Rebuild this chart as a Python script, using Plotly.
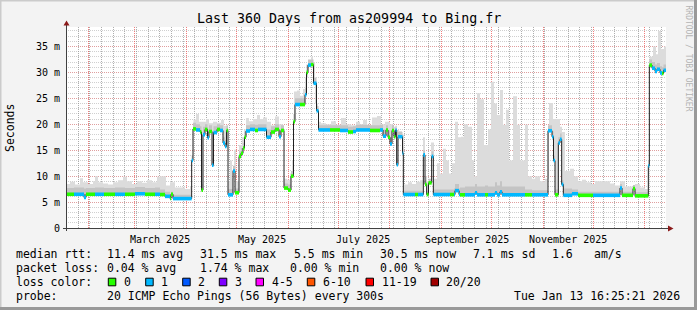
import plotly.graph_objects as go
import pandas as pd

# ---------------- data ----------------
START = pd.Timestamp("2025-01-18 16:25:21")
END = pd.Timestamp("2026-01-13 16:25:21")

# median RTT (ms) change points, days since START, with lost pings (of 20)
median_days = [0.0, 4.8, 10.8, 12.0, 17.4, 22.8, 29.4, 35.4, 41.4, 47.4, 53.4, 56.4, 59.4, 62.4, 63.0, 64.2,
               75.4, 76.2, 78.0, 80.4, 81.3, 82.2, 83.4, 84.9, 85.8, 87.6, 88.5, 90.6, 92.4, 94.2, 95.4, 96.3,
               97.2, 100.2, 101.4, 103.8, 105.0, 106.2, 107.1, 108.0, 110.4, 113.4, 115.2, 117.6, 120.3, 123.0,
               125.4, 127.8, 129.0, 130.8, 133.2, 135.0, 136.5, 137.4, 140.4, 143.4, 144.3, 145.2, 147.0, 148.5,
               150.3, 151.5, 158.4, 164.4, 169.2, 172.2, 174.0, 177.6, 182.4, 188.4, 190.2, 192.0, 193.2, 194.4,
               195.6, 196.8, 197.7, 198.4, 199.2, 201.0, 201.9, 202.4, 209.4, 211.2, 214.4, 215.4, 216.4, 217.5,
               219.4, 220.4, 230.4, 232.8, 233.4, 235.8, 236.4, 239.4, 245.4, 246.6, 251.4, 253.2, 257.4, 258.6,
               260.4, 261.6, 275.4, 279.6, 289.2, 291.6, 292.5, 293.4, 295.4, 296.4, 297.4, 298.4, 303.6, 307.2,
               316.2, 332.4, 333.6, 340.2, 341.4, 349.4, 350.0, 351.6, 353.4, 354.6, 356.4, 357.6, 358.5, 360.0]
median_ms = [6.5, 6.5, 5.9, 6.5, 6.5, 6.5, 6.5, 6.5, 6.6, 6.5, 6.5, 6.45, 6.1, 5.7, 6.5, 5.67,
             13.0, 19.1, 18.9, 18.5, 7.3, 18.0, 19.0, 17.4, 18.6, 12.1, 18.4, 19.0, 18.8, 16.4, 15.7, 18.8,
             6.4, 11.0, 6.8, 13.8, 14.4, 15.4, 17.5, 18.7, 19.0, 18.8, 19.0, 19.0, 17.5, 18.5,
             19.0, 17.6, 18.8, 7.7, 7.3, 10.0, 20.5, 23.8, 23.8, 25.7, 30.0, 31.4, 31.5, 27.9,
             22.6, 18.9, 18.9, 18.8, 18.5, 18.6, 18.9, 18.9, 18.8, 18.9, 17.7, 18.9, 17.5, 16.2,
             18.8, 17.6, 18.9, 12.2, 17.6, 17.6, 14.4, 6.45, 6.45, 6.45, 14.1, 8.4, 6.45, 8.7,
             13.8, 6.45, 6.45, 6.45, 7.2, 6.45, 6.4, 6.4, 6.8, 6.4, 6.4, 6.4, 6.8, 6.4,
             7.0, 6.4, 6.4, 6.4, 18.75, 17.6, 13.0, 6.4, 16.4, 17.1, 8.4, 6.3, 6.6, 6.3,
             6.3, 7.7, 6.3, 7.6, 6.2, 12.0, 31.4, 30.8, 30.2, 30.6, 29.9, 29.8, 30.4, 30.4]
median_loss = [0, 1, 1, 0, 1, 0, 1, 0, 1, 0, 1, 0, 1, 0, 0, 1,
               1, 0, 1, 0, 0, 1, 0, 1, 0, 1, 1, 0, 1, 1, 1, 0,
               1, 1, 0, 0, 0, 0, 0, 1, 1, 0, 1, 1, 1, 0,
               0, 1, 0, 0, 0, 0, 0, 1, 0, 1, 0, 1, 0, 1,
               1, 1, 0, 1, 0, 1, 1, 1, 0, 1, 1, 0, 0, 1,
               0, 0, 1, 1, 1, 1, 1, 1, 0, 1, 1, 0, 0, 0,
               1, 1, 0, 1, 1, 1, 0, 1, 1, 1, 0, 1, 1, 1,
               1, 1, 0, 1, 1, 1, 1, 0, 1, 1, 1, 1, 1, 0,
               1, 1, 0, 0, 0, 1, 0, 1, 1, 1, 1, 0, 1, 1]
# upper edge of the dense (darker) smoke, same time points as the median
dense_ms = [7.7, 7.8, 7.6, 7.7, 7.8, 7.7, 7.8, 7.7, 7.9, 7.7, 7.8, 7.4, 7.0, 6.6, 7.0, 6.4,
            14.0, 20.3, 20.0, 19.6, 8.5, 19.5, 20.0, 19.0, 19.8, 13.5, 19.6, 20.0, 19.8, 17.5, 17.0, 19.8,
            7.5, 12.0, 7.6, 14.8, 15.4, 16.4, 18.5, 19.8, 20.0, 19.9, 20.0, 20.0, 19.0, 19.6,
            20.0, 19.0, 19.8, 8.6, 8.4, 11.0, 22.0, 25.0, 25.0, 27.0, 31.5, 32.5, 32.5, 29.0,
            23.5, 19.8, 19.8, 19.8, 19.5, 19.6, 19.9, 19.9, 19.8, 19.9, 19.0, 19.8, 18.8, 17.5,
            19.8, 18.8, 19.7, 13.5, 18.5, 18.5, 15.5, 7.2, 7.2, 7.2, 15.0, 9.2, 7.2, 9.5,
            14.8, 7.4, 7.4, 7.6, 8.5, 7.6, 7.8, 8.0, 8.5, 8.0, 8.2, 8.0, 8.8, 8.2,
            9.0, 8.0, 7.4, 7.3, 19.8, 18.6, 14.0, 7.4, 17.5, 18.2, 9.2, 7.6, 7.4, 7.0,
            7.0, 8.5, 7.0, 8.3, 6.9, 13.0, 32.5, 32.0, 31.5, 31.8, 31.2, 31.0, 31.5, 31.5]

# upper edge of the ping "smoke" (ms)
smoke_days = [0.0, 2.4, 5.4, 8.4, 10.2, 13.2, 16.2, 17.4, 19.2, 22.2, 25.2, 28.2, 31.2, 34.2, 36.6, 39.6,
              42.6, 45.6, 48.6, 51.6, 54.6, 56.4, 60.0, 62.4, 65.4, 68.4, 71.4, 74.4, 75.6, 76.5, 78.0, 79.8,
              82.2, 84.0, 85.8, 88.2, 90.6, 93.0, 94.8, 96.6, 97.2, 98.4, 99.6, 100.8, 102.0, 103.8, 105.6,
              106.8, 108.0, 109.8, 112.2, 114.6, 116.4, 118.2, 120.6, 123.0, 125.4, 127.8, 130.2, 130.8, 132.6,
              134.4, 135.6, 136.8, 138.6, 140.4, 142.2, 143.4, 145.2, 147.0, 148.2, 149.4, 151.2, 153.0, 156.0,
              159.0, 162.0, 165.0, 168.0, 171.0, 174.0, 176.4, 178.2, 180.6, 183.6, 186.6, 189.0, 191.4, 194.4,
              196.2, 198.0, 199.8, 201.6, 202.8, 205.2, 207.6, 210.0, 212.4, 214.2, 215.4, 216.6, 219.0, 220.8,
              222.6, 224.4, 226.2, 228.0, 229.8, 231.6, 233.4, 235.2, 237.0, 238.8, 241.2, 243.6, 244.8, 246.6,
              248.4, 250.8, 253.2, 255.0, 256.8, 258.6, 260.4, 262.2, 264.0, 265.8, 268.2, 270.6, 272.4, 275.4,
              277.2, 279.6, 281.4, 284.4, 287.4, 289.8, 292.2, 294.6, 296.4, 297.6, 299.4, 302.4, 304.8, 307.2,
              309.6, 312.0, 315.0, 317.4, 320.4, 323.4, 326.4, 329.4, 332.4, 335.4, 338.4, 341.4, 344.4, 347.4,
              349.2, 350.1, 352.2, 354.0, 355.2, 357.0, 358.8, 360.0]
smoke_max_ms = [8.5, 8.9, 8.4, 9.6, 8.8, 8.5, 9.0, 10.0, 8.8, 8.6, 8.4, 8.8, 9.2, 9.9, 9.0, 8.5,
                9.0, 8.7, 9.2, 8.8, 9.9, 10.0, 8.2, 8.8, 7.8, 7.8, 7.5, 8.0, 14.0, 20.9, 22.0, 20.5,
                20.5, 21.0, 20.2, 20.5, 20.3, 20.8, 19.7, 19.5, 9.0, 13.0, 9.6, 15.1, 9.0, 16.0, 17.5,
                19.0, 21.2, 20.6, 21.0, 21.8, 21.0, 21.3, 20.5, 19.8, 21.5, 20.0, 19.5, 9.5, 9.3,
                10.5, 13.0, 26.3, 26.5, 25.5, 26.8, 29.0, 32.4, 33.0, 32.0, 24.0, 20.5, 20.2, 20.0,
                20.6, 19.9, 21.2, 20.0, 19.8, 20.5, 20.0, 20.8, 19.8, 21.3, 21.6, 20.0, 20.5, 20.0,
                19.5, 18.9, 18.7, 18.0, 8.4, 8.8, 8.5, 8.9, 9.2, 17.5, 10.0, 9.0, 16.5, 9.5,
                12.5, 10.5, 15.3, 13.0, 10.5, 12.5, 20.5, 17.5, 17.6, 20.0, 19.5, 13.0, 10.0, 26.0,
                24.8, 16.0, 19.0, 28.2, 24.0, 21.8, 26.6, 19.9, 22.8, 13.0, 25.4, 19.9, 13.0, 19.9,
                10.0, 9.5, 10.0, 9.0, 9.5, 24.1, 21.0, 21.0, 19.5, 18.5, 11.0, 11.4, 10.0, 9.0,
                9.3, 8.8, 8.5, 9.0, 9.0, 9.0, 8.6, 8.2, 9.0, 8.0, 8.0, 8.5, 7.8, 7.5,
                8.0, 33.0, 35.0, 33.5, 38.0, 34.5, 35.0, 34.0]

y_ticks = [0, 5, 10, 15, 20, 25, 30, 35]
y_tick_labels = ["0", "5 m", "10 m", "15 m", "20 m", "25 m", "30 m", "35 m"]
month_labels = ["March 2025", "May 2025", "July 2025", "September 2025", "November 2025"]
month_label_dates = ["2025-03-16", "2025-05-16", "2025-07-16", "2025-09-16", "2025-11-16"]

loss_names = ["0", "1", "2", "3", "4-5", "6-10", "11-19", "20/20"]
loss_colors = ["#26ff00", "#00b8ff", "#0059ff", "#7e00ff", "#ff00ff", "#ff5500", "#ff0000", "#a00000"]

stats_rtt = ["11.4 ms avg", "31.5 ms max", "5.5 ms min", "30.5 ms now", "7.1 ms sd", "1.6", "am/s"]
stats_loss = ["0.04 % avg", "1.74 % max", "0.00 % min", "0.00 % now"]
probe_text = "20 ICMP Echo Pings (56 Bytes) every 300s"
stamp_text = "Tue Jan 13 16:25:21 2026"
title_text = "Last 360 Days from as209994 to Bing.fr"

# ---------------- figure ----------------
W, H = 697, 310
L, R, T, B = 66, 31, 27, 82
MONO = "DejaVu Sans Mono"

def px(xp):
    return (xp - L) / (W - L - R)

def py(yp):
    return (H - B - yp) / (H - T - B)

mx = [START + pd.Timedelta(days=d) for d in median_days]
sx = [START + pd.Timedelta(days=d) for d in smoke_days]

fig = go.Figure()
# light smoke: between median and max
fig.add_trace(go.Scatter(x=mx, y=median_ms, mode="lines", line=dict(width=0, shape="hv"),
                         hoverinfo="skip", showlegend=False))
fig.add_trace(go.Scatter(x=sx, y=smoke_max_ms, mode="lines", line=dict(width=0, shape="hv"),
                         fill="tonexty", fillcolor="#dcdcdc", hoverinfo="skip", showlegend=False))
# dense smoke: between median and dense upper edge
fig.add_trace(go.Scatter(x=mx, y=median_ms, mode="lines", line=dict(width=0, shape="hv"),
                         hoverinfo="skip", showlegend=False))
fig.add_trace(go.Scatter(x=mx, y=dense_ms, mode="lines", line=dict(width=0, shape="hv"),
                         fill="tonexty", fillcolor="#c4c4c4", hoverinfo="skip", showlegend=False))
# median line
fig.add_trace(go.Scatter(x=mx, y=median_ms, mode="lines", line=dict(width=1, color="#202020", shape="hv"),
                         hoverinfo="skip", showlegend=False))
# loss-coloured median bands
for lvl, col in enumerate(loss_colors):
    xs, ys = [], []
    for i in range(len(mx) - 1):
        if median_loss[i] == lvl:
            xs += [mx[i], mx[i + 1], None]
            ys += [median_ms[i], median_ms[i], None]
    if xs:
        fig.add_trace(go.Scatter(x=xs, y=ys, mode="lines", line=dict(width=3.6, color=col),
                                 hoverinfo="skip", showlegend=False))

shapes = []
# axes with arrows
shapes.append(dict(type="line", xref="paper", yref="paper", x0=px(66.5), x1=px(66.5), y0=py(231), y1=py(24),
                   line=dict(color="#404040", width=1)))
shapes.append(dict(type="path", xref="paper", yref="paper",
                   path=f"M {px(63.5)} {py(25.5)} L {px(69.5)} {py(25.5)} L {px(66.5)} {py(20.5)} Z",
                   fillcolor="#8b1a1a", line=dict(width=0)))
shapes.append(dict(type="line", xref="paper", yref="paper", x0=px(63), x1=px(669), y0=py(228.5), y1=py(228.5),
                   line=dict(color="#404040", width=1)))
shapes.append(dict(type="path", xref="paper", yref="paper",
                   path=f"M {px(668)} {py(225.5)} L {px(668)} {py(231.5)} L {px(673.5)} {py(228.5)} Z",
                   fillcolor="#8b1a1a", line=dict(width=0)))
# 3D frame
shapes.append(dict(type="line", xref="paper", yref="paper", x0=px(0), x1=px(W), y0=py(0.5), y1=py(0.5),
                   line=dict(color="#cbcbcb", width=2)))
shapes.append(dict(type="line", xref="paper", yref="paper", x0=px(0.5), x1=px(0.5), y0=py(0), y1=py(H),
                   line=dict(color="#cbcbcb", width=2)))
shapes.append(dict(type="line", xref="paper", yref="paper", x0=px(0), x1=px(W), y0=py(H - 1.5), y1=py(H - 1.5),
                   line=dict(color="#999999", width=3)))
shapes.append(dict(type="line", xref="paper", yref="paper", x0=px(W - 1.5), x1=px(W - 1.5), y0=py(0), y1=py(H),
                   line=dict(color="#999999", width=3)))

annotations = []
def txt(xp, yp, s, size=11.5, color="#000000", xanchor="left", angle=0):
    annotations.append(dict(x=px(xp), y=py(yp), xref="paper", yref="paper", text=s, showarrow=False,
                            xanchor=xanchor, yanchor="middle", textangle=angle, borderpad=0,
                            font=dict(family=MONO, size=size, color=color)))

txt(348.5, 18, title_text, size=13.3, xanchor="center")
txt(10, 128, "Seconds", size=11.5, xanchor="center", angle=-90)
txt(688, 58.5, "RRDTOOL / TOBI OETIKER", size=8, color="#b4b4b4", xanchor="center", angle=90)

# month labels (placed on the date axis)
for lab, d in zip(month_labels, month_label_dates):
    annotations.append(dict(x=d, y=0, xref="x", yref="paper", text=lab, showarrow=False, yanchor="top",
                            yshift=-4, font=dict(family=MONO, size=10, color="#000000")))

# legend rows
row_y = [254, 268, 282, 296]
txt(15, row_y[0], "median rtt:")
for xp, s in zip([106, 199, 292.5, 378.5, 472, 551, 592.5], stats_rtt):
    txt(xp, row_y[0], s)
txt(15, row_y[1], "packet loss:")
for xp, s in zip([106, 199, 288.5, 378.5], stats_loss):
    txt(xp, row_y[1], s)
txt(15, row_y[2], "loss color:")
box_x = [108.3, 145.7, 182.7, 219.3, 256, 307.3, 366, 431]
for bx, name, col in zip(box_x, loss_names, loss_colors):
    shapes.append(dict(type="rect", xref="paper", yref="paper", x0=px(bx), x1=px(bx + 7.5),
                       y0=py(row_y[2] - 3.8), y1=py(row_y[2] + 3.8), fillcolor=col,
                       line=dict(color="#000000", width=1)))
    txt(bx + 14.5, row_y[2], name)
txt(15, row_y[3], "probe:")
txt(106, row_y[3], probe_text)
txt(680.5, row_y[3], stamp_text, xanchor="right")

MAJOR_Y = "rgba(240,110,110,0.5)"
MINOR_Y = "rgba(150,150,150,0.45)"
MAJOR_X = "rgba(235,70,70,0.7)"
MINOR_X = "rgba(130,130,130,0.65)"
fig.update_layout(
    width=W, height=H, margin=dict(l=L, r=R, t=T, b=B),
    paper_bgcolor="#f3f3f3", plot_bgcolor="#ffffff",
    shapes=shapes, annotations=annotations, showlegend=False,
    xaxis=dict(type="date", range=[START, END], showticklabels=False, ticks="",
               dtick="M1", tick0="2025-01-01", showgrid=True, gridcolor=MAJOR_X,
               griddash="1px,1px", gridwidth=1, zeroline=False, showline=False,
               minor=dict(dtick=7 * 86400000, tick0="2025-01-19", showgrid=True,
                          gridcolor=MINOR_X, griddash="1px,1px", gridwidth=1)),
    yaxis=dict(range=[0, 38.75], tickvals=y_ticks, ticktext=y_tick_labels, ticks="",
               tickfont=dict(family=MONO, size=10, color="#000000"), ticklabelstandoff=5,
               showgrid=True, gridcolor=MAJOR_Y, griddash="1px,1px", gridwidth=1,
               zeroline=False, showline=False,
               minor=dict(dtick=1, showgrid=True, gridcolor=MINOR_Y,
                          griddash="1px,1px", gridwidth=1)),
)

fig.write_html("out.html")
